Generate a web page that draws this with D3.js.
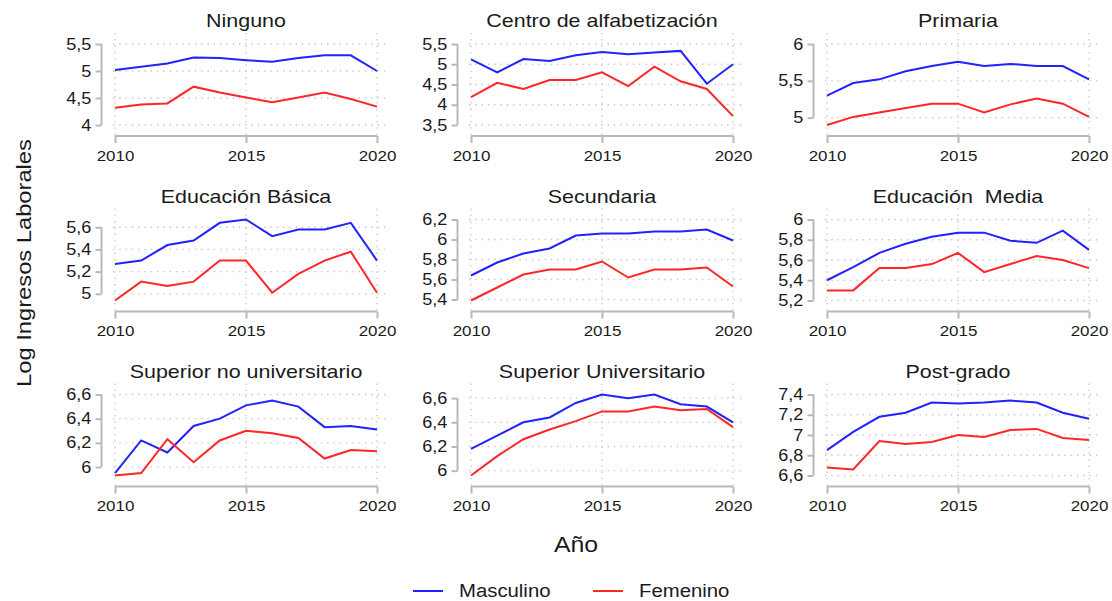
<!DOCTYPE html>
<html>
<head>
<meta charset="utf-8">
<script src="https://cdn.jsdelivr.net/npm/d3@7"></script>
<style>
  body { margin: 0; background: #fff; }
  text { font-family: "Liberation Sans", Arial, sans-serif; fill: #1a1a1a; }
</style>
</head>
<body>
<div id="chart"></div>
<script>
// data
const years = [2010, 2011, 2012, 2013, 2014, 2015, 2016, 2017, 2018, 2019, 2020];
const yearTicks = [2010, 2015, 2020];

const categories = [
  "Ninguno", "Centro de alfabetización", "Primaria",
  "Educación Básica", "Secundaria", "Educación  Media",
  "Superior no universitario", "Superior Universitario", "Post-grado"
];

const masculino = [
  [5.02, 5.08, 5.14, 5.25, 5.24, 5.20, 5.17, 5.24, 5.29, 5.29, 5.00],
  [5.12, 4.80, 5.13, 5.08, 5.22, 5.30, 5.25, 5.29, 5.33, 4.52, 5.00],
  [5.30, 5.47, 5.52, 5.63, 5.70, 5.76, 5.70, 5.73, 5.70, 5.70, 5.52],
  [5.27, 5.30, 5.44, 5.48, 5.64, 5.67, 5.52, 5.58, 5.58, 5.64, 5.30],
  [5.64, 5.77, 5.86, 5.91, 6.04, 6.06, 6.06, 6.08, 6.08, 6.10, 5.99],
  [5.40, 5.53, 5.67, 5.76, 5.83, 5.87, 5.87, 5.79, 5.77, 5.89, 5.70],
  [5.95, 6.22, 6.12, 6.34, 6.40, 6.51, 6.55, 6.50, 6.33, 6.34, 6.31],
  [6.18, 6.29, 6.40, 6.44, 6.56, 6.63, 6.60, 6.63, 6.55, 6.53, 6.40],
  [6.85, 7.03, 7.18, 7.22, 7.32, 7.31, 7.32, 7.34, 7.32, 7.22, 7.16]
];

const femenino = [
  [4.32, 4.38, 4.40, 4.71, 4.60, 4.51, 4.42, 4.51, 4.60, 4.48, 4.34],
  [4.19, 4.54, 4.39, 4.61, 4.61, 4.80, 4.46, 4.94, 4.58, 4.39, 3.72],
  [4.90, 5.01, 5.07, 5.13, 5.19, 5.19, 5.07, 5.18, 5.26, 5.19, 5.01],
  [4.94, 5.11, 5.07, 5.11, 5.30, 5.30, 5.01, 5.18, 5.30, 5.38, 5.01],
  [5.39, 5.52, 5.65, 5.70, 5.70, 5.78, 5.62, 5.70, 5.70, 5.72, 5.53],
  [5.30, 5.30, 5.52, 5.52, 5.56, 5.67, 5.48, 5.56, 5.64, 5.60, 5.52],
  [5.93, 5.95, 6.23, 6.04, 6.22, 6.30, 6.28, 6.24, 6.07, 6.14, 6.13],
  [5.96, 6.12, 6.26, 6.34, 6.41, 6.49, 6.49, 6.53, 6.50, 6.51, 6.36],
  [6.68, 6.66, 6.94, 6.91, 6.93, 7.00, 6.98, 7.05, 7.06, 6.97, 6.95]
];

const yTicks = [
  [4, 4.5, 5, 5.5],
  [3.5, 4, 4.5, 5, 5.5],
  [5, 5.5, 6],
  [5, 5.2, 5.4, 5.6],
  [5.4, 5.6, 5.8, 6, 6.2],
  [5.2, 5.4, 5.6, 5.8, 6],
  [6, 6.2, 6.4, 6.6],
  [6, 6.2, 6.4, 6.6],
  [6.6, 6.8, 7, 7.2, 7.4]
];

const seriesNames = ["Masculino", "Femenino"];
const seriesColors = ["#2222ff", "#ff2626"];

// layout
const width = 1112, height = 601;
const colX = [115, 471, 827];
const rowY = [44, 219.5, 394.5];
const panelW = 262, panelH = 81;
const axisColor = "#b9b9b9", gridColor = "#c4c4c4";
const stretch = "scale(1.13,1)"; // glyphs in the picture are a bit wide

const fmt = v => String(+v.toFixed(1)).replace(".", ",");

const svg = d3.select("#chart").append("svg")
  .attr("width", width)
  .attr("height", height);

categories.forEach((name, i) => {
  const x0 = colX[i % 3], y0 = rowY[Math.floor(i / 3)];
  const g = svg.append("g").attr("transform", "translate(" + x0 + "," + y0 + ")");

  const ticks = yTicks[i];
  const all = masculino[i].concat(femenino[i], ticks);

  const x = d3.scaleLinear().domain([2010, 2020]).range([0, panelW]);
  const y = d3.scaleLinear().domain(d3.extent(all)).range([panelH, 0]);

  const xAxisY = panelH + 11;
  const yAxisX = -13.5;

  // grid
  g.selectAll(".hgrid").data(ticks).enter().append("line")
    .attr("x1", -2).attr("x2", panelW + 13)
    .attr("y1", d => y(d)).attr("y2", d => y(d))
    .style("stroke", gridColor).style("stroke-width", 1.3)
    .style("stroke-dasharray", "1.3,5");
  g.selectAll(".vgrid").data(yearTicks).enter().append("line")
    .attr("x1", d => x(d)).attr("x2", d => x(d))
    .attr("y1", -11).attr("y2", xAxisY)
    .style("stroke", gridColor).style("stroke-width", 1.3)
    .style("stroke-dasharray", "1.3,5");

  // y axis, line only between first and last tick
  const yAxis = g.append("g")
    .attr("transform", "translate(" + yAxisX + ",0)")
    .call(d3.axisLeft(y).tickValues(ticks).tickFormat(fmt).tickSize(6).tickPadding(3));
  yAxis.select(".domain").remove();
  yAxis.append("line")
    .attr("y1", y(ticks[0])).attr("y2", y(ticks[ticks.length - 1]))
    .style("stroke", axisColor).style("stroke-width", 2);
  yAxis.selectAll(".tick line").style("stroke", axisColor).style("stroke-width", 2);
  yAxis.selectAll(".tick text")
    .style("font-size", "16px").style("fill", "#1a1a1a")
    .attr("transform", stretch);

  // x axis
  const xAxis = g.append("g")
    .attr("transform", "translate(0," + xAxisY + ")")
    .call(d3.axisBottom(x).tickValues(yearTicks).tickFormat(d3.format("d")).tickSize(7).tickPadding(7));
  xAxis.select(".domain").remove();
  xAxis.append("line")
    .attr("x1", 0).attr("x2", panelW)
    .style("stroke", axisColor).style("stroke-width", 2);
  xAxis.selectAll(".tick line").style("stroke", axisColor).style("stroke-width", 2);
  xAxis.selectAll(".tick text")
    .style("font-size", "15px").style("fill", "#1a1a1a")
    .attr("transform", stretch);

  // series
  const line = d3.line().x((d, j) => x(years[j])).y(d => y(d));
  [masculino[i], femenino[i]].forEach((vals, s) => {
    g.append("path")
      .datum(vals)
      .attr("d", line)
      .style("fill", "none")
      .style("stroke", seriesColors[s])
      .style("stroke-width", 2);
  });

  // title
  g.append("text")
    .attr("transform", "translate(" + panelW / 2 + ",-17) " + stretch)
    .style("text-anchor", "middle")
    .style("font-size", "19px")
    .style("white-space", "pre")
    .text(name);
});

// axis titles
svg.append("text")
  .attr("transform", "translate(31,263) rotate(-90) " + stretch)
  .style("text-anchor", "middle")
  .style("font-size", "21px")
  .text("Log Ingresos Laborales");

svg.append("text")
  .attr("transform", "translate(576,552) " + stretch)
  .style("text-anchor", "middle")
  .style("font-size", "22px")
  .text("Año");

// legend
const legendX = [413, 593];
const legend = svg.selectAll(".legend").data(seriesNames).enter().append("g")
  .attr("transform", (d, i) => "translate(" + legendX[i] + ",591)");
legend.append("line")
  .attr("x1", 0).attr("x2", 30)
  .style("stroke", (d, i) => seriesColors[i])
  .style("stroke-width", 2);
legend.append("text")
  .attr("transform", "translate(46,6) " + stretch)
  .style("font-size", "18px")
  .text(d => d);
</script>
</body>
</html>
